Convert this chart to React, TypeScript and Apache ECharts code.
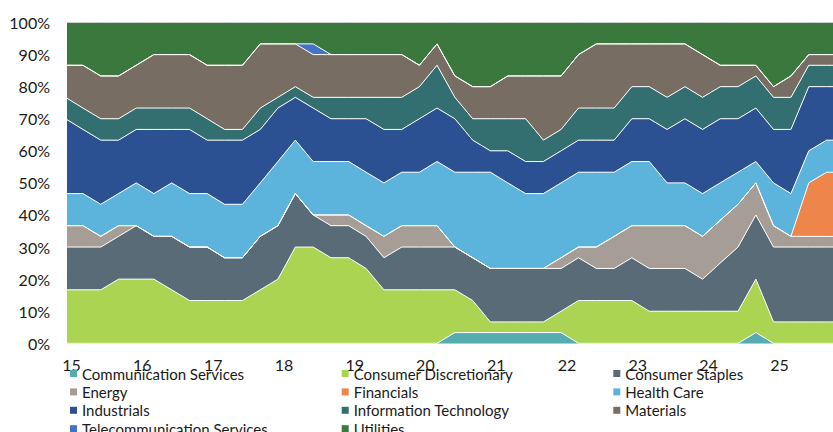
import React, { useEffect, useRef } from "react";
import * as echarts from "echarts";

// Quarterly observation dates (year-month)
const dates = [
  "2014-12",
  "2015-03", "2015-06", "2015-09", "2015-12",
  "2016-03", "2016-06", "2016-09", "2016-12",
  "2017-03", "2017-06", "2017-09", "2017-12",
  "2018-03", "2018-06", "2018-09", "2018-12",
  "2019-03", "2019-06", "2019-09", "2019-12",
  "2020-03", "2020-06", "2020-09", "2020-12",
  "2021-03", "2021-06", "2021-09", "2021-12",
  "2022-03", "2022-06", "2022-09", "2022-12",
  "2023-03", "2023-06", "2023-09", "2023-12",
  "2024-03", "2024-06", "2024-09", "2024-12",
  "2025-03", "2025-06", "2025-09", "2025-12",
];

// Number of constituents (out of 30) per sector
const communicationServices = [0,0,0,0,0,0,0,0,0,0, 0,0,0,0,0,0,0,0,0,0, 0,0,1,1,1,1,1,1,1,0, 0,0,0,0,0,0,0,0,0,1, 0,0,0,0,0];
const consumerDiscretionary = [5,5,5,6,6,6,5,4,4,4, 4,5,6,9,9,8,8,7,5,5, 5,5,4,3,1,1,1,1,2,4, 4,4,4,3,3,3,3,3,3,5, 2,2,2,2,2];
const consumerStaples = [4,4,4,4,5,4,5,5,5,4, 4,5,5,5,3,3,3,3,3,4, 4,4,4,4,5,5,5,5,4,4, 3,3,4,4,4,4,3,4.5,6,6, 7,7,7,7,7];
const energy = [2,2,1,1,0,0,0,0,0,0, 0,0,0,0,0,1,1,1,2,2, 2,2,0,0,0,0,0,0,1,1, 2,3,3,4,4,4,4,4,4,3, 2,1,1,1,1];
const financials = [0,0,0,0,0,0,0,0,0,0, 0,0,0,0,0,0,0,0,0,0, 0,0,0,0,0,0,0,0,0,0, 0,0,0,0,0,0,0,0,0,0, 0,0,5,6,6];
const healthCare = [3,3,3,3,4,4,5,5,5,5, 5,5,6,5,5,5,5,5,5,5, 5,6,7,8,9,8,7,7,7,7, 7,6,6,6,4,4,4,3.5,3,2, 4,4,3,3,3];
const industrials = [7,6,6,5,5,6,5,6,5,6, 6,5,5,4,5,4,4,5,5,4, 5,5,5,3,2,3,3,3,3,3, 3,3,4,4,5,6,6,6,5,5, 5,6,6,5,5];
const informationTechnology = [2,2,2,2,2,2,2,2,2,1, 1,2,1,1,1,2,2,2,3,3, 3,4,2,2,3,3,4,2,2,3, 3,3,3,3,3,3,3,3,3,3, 3,3,2,2,2];
const materials = [3,4,4,4,4,5,5,5,5,6, 6,6,5,4,4,4,4,4,4,4, 2,2,2,3,3,4,4,6,5,5, 6,6,4,4,5,4,4,2,2,1, 1,2,1,1,1];
const telecommunicationServices = [0,0,0,0,0,0,0,0,0,0, 0,0,0,0,1,0,0,0,0,0, 0,0,0,0,0,0,0,0,0,0, 0,0,0,0,0,0,0,0,0,0, 0,0,0,0,0];
const utilities = [4,4,5,5,4,3,3,3,4,4, 4,2,2,2,2,3,3,3,3,3, 4,2,5,6,6,5,5,5,5,3, 2,2,2,2,2,2,3,4,4,4, 6,5,3,3,3];

const TOTAL = 30;
// Year tick labels (two-digit years), axis span
const yearTicks = [15, 16, 17, 18, 19, 20, 21, 22, 23, 24, 25];
const axisStart = "2014-12-14";
const axisEnd = "2025-10-04";

const sectors = [
  { name: "Communication Services", values: communicationServices, color: "#55ADB0" },
  { name: "Consumer Discretionary", values: consumerDiscretionary, color: "#ABD452" },
  { name: "Consumer Staples", values: consumerStaples, color: "#5A6B78" },
  { name: "Energy", values: energy, color: "#A69E96" },
  { name: "Financials", values: financials, color: "#EE854A" },
  { name: "Health Care", values: healthCare, color: "#5CB3DC" },
  { name: "Industrials", values: industrials, color: "#2C5193" },
  { name: "Information Technology", values: informationTechnology, color: "#336E70" },
  { name: "Materials", values: materials, color: "#786D62" },
  { name: "Telecommunication Services", values: telecommunicationServices, color: "#4472C4" },
  { name: "Utilities", values: utilities, color: "#3B783D" },
];

const legendColumns = [
  ["Communication Services", "Energy", "Industrials", "Telecommunication Services"],
  ["Consumer Discretionary", "Financials", "Information Technology", "Utilities"],
  ["Consumer Staples", "Health Care", "Materials"],
];
const legendLefts = [70, 341.7, 613.3];

function toTime(d: string): number {
  const [y, m, day] = d.split("-").map(Number);
  return Date.UTC(y, m - 1, day || 1);
}
const YEAR_MS = 365.25 * 24 * 3600 * 1000;
function toYearNumber(d: string): number {
  // two-digit year with fraction, for the label axis
  return (toTime(d) - Date.UTC(2000, 0, 1)) / YEAR_MS;
}

export default function App() {
  const ref = useRef<HTMLDivElement>(null);

  useEffect(() => {
    document.body.style.margin = "0";
    if (!ref.current) return;
    const chart = echarts.init(ref.current, undefined, { renderer: "svg" });
    const font = "Lato";
    const option: any = {
      animation: false,
      backgroundColor: "#ffffff",
      textStyle: { fontFamily: font },
      grid: { left: 68, top: 22.5, width: 765, height: 320.8, containLabel: false },
      xAxis: [
        {
          type: "time",
          min: toTime(axisStart),
          max: toTime(axisEnd),
          axisLine: { show: true, lineStyle: { color: "#d0d0d0", width: 1 } },
          axisTick: { show: false },
          splitLine: { show: false },
          axisLabel: { show: false },
        },
        {
          type: "value",
          position: "bottom",
          min: toYearNumber(axisStart),
          max: toYearNumber(axisEnd),
          axisLine: { show: false },
          axisTick: { show: false },
          splitLine: { show: false },
          axisLabel: {
            customValues: yearTicks.map((y) => toYearNumber(`${2000 + y}-01-01`)),
            showMinLabel: true,
            showMaxLabel: true,
            formatter: (v: number) => String(Math.round(v)),
            fontFamily: font,
            fontSize: 16,
            color: "#1a1a1a",
            margin: 13,
          },
        },
      ],
      yAxis: {
        type: "value",
        min: 0,
        max: TOTAL,
        interval: 3,
        axisLine: { show: true, lineStyle: { color: "#d0d0d0", width: 1 } },
        axisTick: { show: false },
        splitLine: { show: false },
        axisLabel: {
          formatter: (v: number) => Math.round((v / TOTAL) * 100) + "%",
          fontFamily: font,
          fontSize: 16,
          color: "#1a1a1a",
          margin: 18,
        },
      },
      legend: legendColumns.map((names, ci) => ({
        data: names,
        orient: "vertical",
        left: legendLefts[ci],
        top: 366,
        height: 90,
        itemWidth: 7,
        itemHeight: 7,
        itemGap: 3.4,
        icon: "rect",
        padding: 0,
        selectedMode: false,
        itemStyle: { borderWidth: 0 },
        textStyle: { fontFamily: font, fontSize: 15, color: "#1a1a1a", lineHeight: 14 },
      })),
      series: sectors.map((s) => ({
        name: s.name,
        type: "line",
        stack: "total",
        xAxisIndex: 0,
        symbol: "none",
        showSymbol: false,
        color: s.color,
        itemStyle: { color: s.color },
        lineStyle: { color: s.name === "Utilities" ? "#d0d0d0" : "#ffffff", width: 1 },
        areaStyle: { color: s.color, opacity: 1 },
        data: dates.map((d, i) => [toTime(d), s.values[i]]),
      })),
    };
    chart.setOption(option);
    return () => chart.dispose();
  }, []);

  return <div ref={ref} style={{ position: "absolute", left: 0, top: 0, width: 833, height: 432 }} />;
}
